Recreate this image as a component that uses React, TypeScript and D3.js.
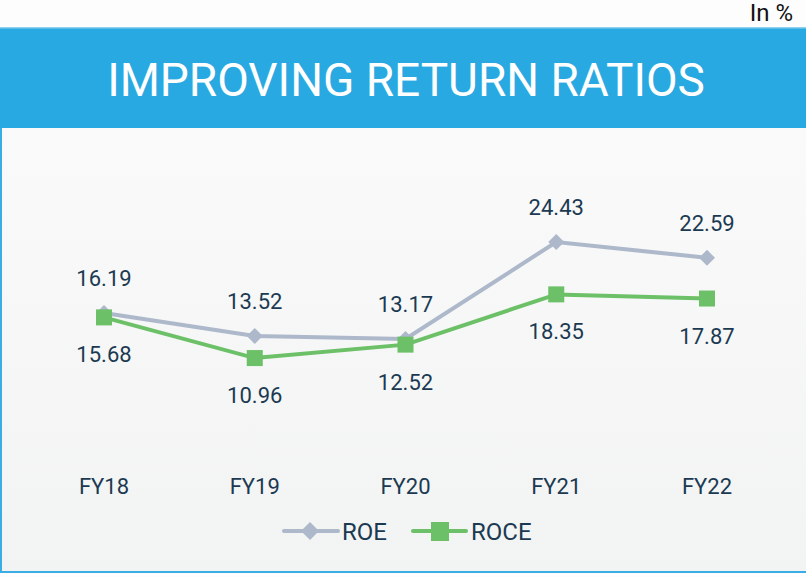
import React from "react";
import * as d3 from "d3";

const categories = ["FY18", "FY19", "FY20", "FY21", "FY22"];
const roe = [16.19, 13.52, 13.17, 24.43, 22.59];
const roce = [15.68, 10.96, 12.52, 18.35, 17.87];
const title = "IMPROVING RETURN RATIOS";
const unitLabel = "In %";
const seriesNames = ["ROE", "ROCE"];

const W = 806;
const H = 577;
const ROE_COLOR = "#adb8cb";
const ROCE_COLOR = "#6cc067";
const TEXT = "#1b3a52";
const FONT = "Roboto, 'Open Sans', sans-serif";

export default function App() {
  const x = d3.scalePoint<string>().domain(categories).range([104, 707]);
  const y = d3.scaleLinear().domain([0, 30]).range([452.5, 194]);
  const line = d3
    .line<number>()
    .x((_, i) => x(categories[i]) as number)
    .y((d) => y(d));

  const diamond = (cx: number, cy: number, r: number) =>
    `M${cx},${cy - r}L${cx + r},${cy}L${cx},${cy + r}L${cx - r},${cy}Z`;

  return (
    <svg
      width={W}
      height={H}
      style={{ position: "fixed", left: 0, top: 0, display: "block" }}
    >
      <defs>
        <linearGradient id="bg" x1="0" y1="0" x2="0" y2="1">
          <stop offset="0" stopColor="#fafafa" />
          <stop offset="1" stopColor="#f2f3f3" />
        </linearGradient>
      </defs>
      <rect x={0} y={0} width={W} height={H} fill="#fdfdfd" />
      <rect x={0} y={128} width={W} height={444} fill="url(#bg)" />
      <rect x={0} y={128} width={2} height={445} fill="#3aaee4" />
      <rect x={0} y={571} width={W} height={2} fill="#3aaee4" />
      <rect x={0} y={27} width={W} height={101} fill="#29a9e1" />
      <rect x={0} y={27} width={W} height={1.5} fill="#8fd0ef" />
      <text
        x={W / 2 + 3}
        y={96}
        textAnchor="middle"
        fill="#ffffff"
        fontFamily={FONT}
        fontSize={46}
      >
        {title}
      </text>
      <text
        x={793}
        y={21}
        textAnchor="end"
        fill="#111111"
        fontFamily={FONT}
        fontSize={24}
      >
        {unitLabel}
      </text>

      <path d={line(roe) || ""} fill="none" stroke={ROE_COLOR} strokeWidth={4} />
      <path d={line(roce) || ""} fill="none" stroke={ROCE_COLOR} strokeWidth={4} />

      {roe.map((v, i) => (
        <path
          key={"rd" + i}
          d={diamond(x(categories[i]) as number, y(v), 8)}
          fill={ROE_COLOR}
        />
      ))}
      {roce.map((v, i) => (
        <rect
          key={"cs" + i}
          x={(x(categories[i]) as number) - 8}
          y={y(v) - 8}
          width={16}
          height={16}
          fill={ROCE_COLOR}
        />
      ))}

      {roe.map((v, i) => (
        <text
          key={"rl" + i}
          x={x(categories[i]) as number}
          y={y(v) - 27}
          textAnchor="middle"
          fill={TEXT}
          fontFamily={FONT}
          fontSize={22}
        >
          {v.toFixed(2)}
        </text>
      ))}
      {roce.map((v, i) => (
        <text
          key={"cl" + i}
          x={x(categories[i]) as number}
          y={y(v) + 45}
          textAnchor="middle"
          fill={TEXT}
          fontFamily={FONT}
          fontSize={22}
        >
          {v.toFixed(2)}
        </text>
      ))}

      {categories.map((c) => (
        <text
          key={c}
          x={x(c) as number}
          y={494}
          textAnchor="middle"
          fill={TEXT}
          fontFamily={FONT}
          fontSize={22}
        >
          {c}
        </text>
      ))}

      <g>
        <line x1={284} x2={338} y1={531} y2={531} stroke={ROE_COLOR} strokeWidth={4} strokeLinecap="round" />
        <path d={diamond(310, 531, 9)} fill={ROE_COLOR} />
        <text x={342} y={540} fill={TEXT} fontFamily={FONT} fontSize={24}>
          {seriesNames[0]}
        </text>
        <line x1={413} x2={466} y1={531} y2={531} stroke={ROCE_COLOR} strokeWidth={4} strokeLinecap="round" />
        <rect x={431} y={522} width={18} height={19} fill={ROCE_COLOR} />
        <text x={471} y={540} fill={TEXT} fontFamily={FONT} fontSize={24}>
          {seriesNames[1]}
        </text>
      </g>
    </svg>
  );
}
